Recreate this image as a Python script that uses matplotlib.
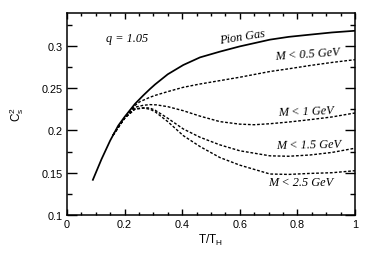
import numpy as np
import matplotlib
matplotlib.use('Agg')
from matplotlib import pyplot as plt

plt.rcParams['font.family'] = 'Liberation Sans'
plt.rcParams['mathtext.fontset'] = 'custom'
plt.rcParams['mathtext.rm'] = 'Liberation Sans'
plt.rcParams['mathtext.it'] = 'Liberation Sans:italic'

# speed of sound squared vs T/T_H
pion_x = [0.09, 0.12, 0.15, 0.178, 0.2, 0.236, 0.265, 0.288, 0.306, 0.35, 0.404,
          0.462, 0.531, 0.6, 0.705, 0.77, 0.844, 0.92, 1.0]
pion_y = [0.1416, 0.166, 0.188, 0.2057, 0.216, 0.2314, 0.2415, 0.249, 0.2545, 0.2665, 0.2775,
          0.2865, 0.2933, 0.2995, 0.3075, 0.3108, 0.3134, 0.316, 0.318]

m05_x = [0.16, 0.2, 0.236, 0.253, 0.288, 0.306, 0.35, 0.404, 0.462, 0.531, 0.6,
         0.705, 0.77, 0.844, 0.92, 1.0]
m05_y = [0.1945, 0.2145, 0.2295, 0.234, 0.2393, 0.2415, 0.246, 0.2511, 0.255, 0.259, 0.263,
         0.2698, 0.273, 0.2769, 0.2805, 0.2838]

m1_x = [0.16, 0.2, 0.236, 0.265, 0.288, 0.311, 0.35, 0.404, 0.462, 0.531, 0.6,
        0.65, 0.705, 0.77, 0.844, 0.92, 1.0]
m1_y = [0.1945, 0.2145, 0.2275, 0.2298, 0.2306, 0.2303, 0.2282, 0.2234, 0.217, 0.2105, 0.2075,
        0.2068, 0.208, 0.21, 0.2128, 0.216, 0.2207]

m15_x = [0.16, 0.2, 0.236, 0.27, 0.288, 0.306, 0.35, 0.404, 0.462, 0.531, 0.6,
         0.705, 0.77, 0.844, 0.92, 1.0]
m15_y = [0.1945, 0.2145, 0.2255, 0.227, 0.2265, 0.224, 0.2145, 0.2018, 0.192, 0.183, 0.176,
         0.170, 0.1695, 0.171, 0.174, 0.179]

m25_x = [0.16, 0.2, 0.236, 0.265, 0.288, 0.306, 0.35, 0.404, 0.462, 0.531, 0.6,
         0.705, 0.77, 0.844, 0.92, 1.0]
m25_y = [0.1945, 0.2145, 0.2252, 0.2265, 0.2252, 0.2222, 0.2105, 0.1939, 0.181, 0.168, 0.159,
         0.1485, 0.148, 0.1492, 0.150, 0.1524]

curve_labels = ['Pion Gas', 'M < 0.5 GeV', 'M < 1 GeV', 'M < 1.5 GeV', 'M < 2.5 GeV']
label_pos = [(0.608, 0.311, 9), (0.835, 0.2905, 4), (0.83, 0.2235, 2),
             (0.84, 0.184, 1), (0.81, 0.1387, 0)]

fig = plt.figure(figsize=(3.74, 2.55), dpi=100)
ax = fig.add_axes([0.179, 0.153, 0.770, 0.792])

dots = (0, (2.0, 1.3))
ax.plot(m05_x, m05_y, color='k', lw=1.0, linestyle=dots)
ax.plot(m1_x, m1_y, color='k', lw=1.0, linestyle=dots)
ax.plot(m15_x, m15_y, color='k', lw=1.0, linestyle=dots)
ax.plot(m25_x, m25_y, color='k', lw=1.0, linestyle=dots)
ax.plot(pion_x, pion_y, color='k', lw=1.25)

for lab, (lx, ly, rot) in zip(curve_labels, label_pos):
    ax.text(lx, ly, lab, ha='center', va='center', rotation=rot,
            family='Liberation Serif', style='italic', fontsize=8.8)
ax.text(0.21, 0.309, 'q = 1.05', ha='center', va='center',
        family='Liberation Serif', style='italic', fontsize=8.8)

ax.set_xlim(0, 1)
ax.set_ylim(0.1, 0.339)
ax.set_xticks(np.arange(0, 1.01, 0.2))
ax.set_xticks(np.arange(0, 1.01, 0.05), minor=True)
ax.set_yticks([0.1, 0.15, 0.2, 0.25, 0.3])
ax.set_yticks(np.arange(0.1, 0.339, 0.025), minor=True)
ax.xaxis.set_major_formatter(plt.FormatStrFormatter('%g'))
ax.yaxis.set_major_formatter(plt.FormatStrFormatter('%g'))
ax.tick_params(which='both', direction='in', top=True, right=True,
               labelsize=7.8, width=1.0, pad=3)
ax.tick_params(axis='y', which='major', length=7)
ax.tick_params(axis='y', which='minor', length=3.6)
ax.tick_params(axis='x', which='major', length=4.5)
ax.tick_params(axis='x', which='minor', length=2.3)
for s in ax.spines.values():
    s.set_linewidth(1.1)

ax.set_xlabel('T/T$_\\mathrm{H}$', fontsize=8.5, labelpad=2)
ax.set_ylabel('C$_\\mathrm{s}^2$', fontsize=8.5, labelpad=11)

fig.savefig('out.png', dpi=100)
